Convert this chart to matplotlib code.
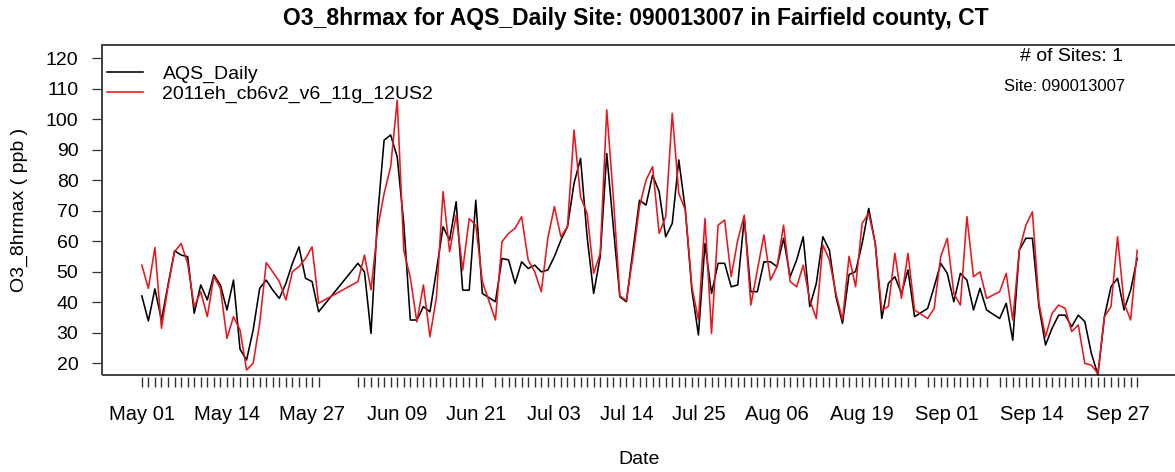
import matplotlib
matplotlib.use("Agg")
import matplotlib.pyplot as plt
import matplotlib.dates as mdates
from matplotlib.patches import Rectangle
import pandas as pd

plt.rcParams['font.family'] = ['Liberation Sans', 'DejaVu Sans']

# days without AQS data (the record runs May 1 - Sep 30, 2011)
missing_days = ["2011-05-29", "2011-05-30", "2011-05-31", "2011-06-01", "2011-06-02",
                "2011-06-23", "2011-08-28", "2011-09-08"]
all_days = pd.date_range("2011-05-01", "2011-09-30", freq="D")
dates = all_days[~all_days.isin(pd.to_datetime(missing_days))]

obs = [42.0, 33.8, 44.3, 34.1, 45.6, 56.8, 55.4, 54.9, 36.3, 45.6, 40.7, 48.9, 45.6, 37.4,
       47.2, 24.5, 21.0, 30.8, 44.5, 47.2, 43.9, 41.2, 46.1, 52.7, 58.1, 47.8, 46.7, 36.8,
       52.7, 49.9, 29.7, 68.0, 93.1, 94.8, 87.6, 65.8, 34.1, 34.1, 38.5, 36.8, 50.5, 64.7,
       60.3, 72.9, 43.9, 43.9, 73.4, 42.8,
       40.1, 54.3, 53.8, 46.1, 53.2, 51.0, 52.1, 49.9, 50.5, 54.9, 60.3, 64.7, 78.9, 87.1,
       61.4, 42.8, 54.9, 88.7, 64.7, 41.7,
       40.1, 57.0, 73.4, 71.8, 81.6, 76.2, 61.4, 65.8, 86.6, 70.2, 43.9, 29.2, 59.2, 42.8,
       52.7, 52.7, 45.0, 45.6, 67.4, 43.4,
       43.4, 53.2, 53.2, 51.6, 60.9, 48.3, 53.8, 61.4, 38.5, 46.1, 61.4, 57.0, 41.7, 33.0,
       49.0, 50.0, 59.2, 70.7, 59.2, 34.6,
       46.1, 48.3, 42.8, 50.5, 35.2,
       37.9, 45.0, 52.7, 49.4, 40.1, 49.4, 47.2, 37.4, 44.5, 37.4,
       34.6, 39.6, 27.5, 57.0, 60.9, 60.9, 38.5, 25.9, 31.4, 35.7, 35.7, 31.9, 35.7, 33.6,
       23.2, 16.1, 35.2, 45.0, 47.8, 37.4, 43.9, 54.3]

mod = [52.1, 44.5, 57.9, 31.4, 45.0, 56.5, 59.2, 52.7, 38.5, 43.4, 35.2, 48.3, 44.5, 28.1,
       35.2, 30.8, 17.7, 19.9, 33.0, 52.9, 49.9, 46.7, 40.7, 50.0, 51.6, 54.3, 58.1, 39.6,
       46.7, 55.4, 44.0, 64.0, 75.6, 84.4, 106.2, 57.0, 48.0, 33.5, 45.6, 28.6, 41.7, 76.2,
       56.5, 68.5, 50.5, 67.4, 65.2, 46.7,
       34.1, 59.8, 62.5, 64.2, 68.0, 53.8, 49.9, 43.4, 60.9, 71.3, 61.4, 64.7, 96.4, 74.5,
       69.1, 49.4, 56.0, 103.0, 74.5, 42.0,
       40.5, 54.9, 71.3, 80.0, 84.4, 62.5, 68.0, 101.9, 75.6, 70.2, 45.0, 34.1, 67.4, 29.7,
       65.2, 66.9, 48.3, 60.3, 68.5, 39.0,
       50.5, 62.0, 47.2, 51.6, 65.2, 46.7, 45.0, 52.1, 40.7, 34.6, 58.7, 53.8, 42.8, 34.1,
       55.0, 45.0, 65.8, 69.1, 59.2, 37.4,
       38.5, 56.0, 41.2, 56.0, 37.4,
       34.6, 37.9, 54.9, 60.9, 42.8, 39.0, 68.0, 48.3, 49.9, 41.2,
       43.4, 49.4, 34.1, 57.0, 65.2, 69.6, 39.6, 28.6, 36.3, 39.0, 37.9, 30.3, 32.5, 19.9,
       19.3, 16.6, 35.2, 38.5, 61.4, 39.6, 34.1, 57.0]

label_dates = ["2011-05-01", "2011-05-14", "2011-05-27", "2011-06-09", "2011-06-21",
               "2011-07-03", "2011-07-14", "2011-07-25", "2011-08-06", "2011-08-19",
               "2011-09-01", "2011-09-14", "2011-09-27"]
yticks = [20, 30, 40, 50, 60, 70, 80, 90, 100, 110, 120]

W, H = 1175, 472
fig = plt.figure(figsize=(W / 100, H / 100), dpi=100)
ax = fig.add_axes([102 / W, 1 - 375 / H, 1075 / W, 330 / H])

ax.plot(dates, obs, color='black', lw=1.15, label='AQS_Daily')
ax.plot(dates, mod, color='#e8161d', lw=1.15, label='2011eh_cb6v2_v6_11g_12US2')

# R-style 4% padding on x
x0 = mdates.date2num(dates[0])
x1 = mdates.date2num(dates[-1])
pad = 0.04 * (x1 - x0)
ax.set_xlim(x0 - pad, x1 + pad)
ax.set_ylim(16.07, 124.3)

# box drawn separately, axes pushed out a little like R's axis()
for s in ax.spines.values():
    s.set_visible(False)
ax.spines['bottom'].set_position(('outward', 1.5))
ax.spines['left'].set_position(('outward', 1.0))
ax.add_patch(Rectangle((0, 0), 1, 1, transform=ax.transAxes, fill=False,
                       edgecolor='#333333', lw=1.3, clip_on=False))

ax.set_yticks(yticks)
ax.tick_params(axis='y', direction='out', length=6.5, width=0.9, pad=9.5,
               labelsize=14, color='#333333')

# one small tick per data day, labels every ~12 days
ax.xaxis.remove_overlapping_locs = False
ax.set_xticks(pd.to_datetime(label_dates))
ax.xaxis.set_major_formatter(mdates.DateFormatter('%b %d'))
ax.set_xticks(dates, minor=True)
ax.tick_params(axis='x', which='major', length=0, pad=20, labelsize=14.5)
ax.tick_params(axis='x', which='minor', direction='out', length=7, width=1.0,
               color='#333333')

leg = ax.legend(loc='upper left', bbox_to_anchor=(0.0047, 0.94), frameon=False,
                fontsize=14, handlelength=1.85, handletextpad=1.0, labelspacing=0.15,
                borderaxespad=0, borderpad=0)

ax.text(0.950, 0.964, '# of Sites: 1', transform=ax.transAxes, ha='right', va='center',
        fontsize=14)
ax.text(0.9516, 0.873, 'Site: 090013007', transform=ax.transAxes, ha='right',
        va='center', fontsize=12)

fig.text(636 / W, 1 - 18 / H, 'O3_8hrmax for AQS_Daily Site: 090013007 in Fairfield county, CT',
         ha='center', va='center', fontsize=16.5, fontweight='bold')
fig.text(639.5 / W, 1 - 460 / H, 'Date', ha='center', va='center', fontsize=14)
fig.text(19 / W, 1 - 210 / H, 'O3_8hrmax ( ppb )', rotation=90, ha='center', va='center',
         fontsize=14)

fig.savefig('out.png', dpi=100)
